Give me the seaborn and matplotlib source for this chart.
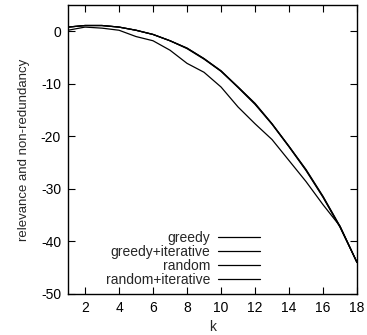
import numpy as np
import pandas as pd
import matplotlib
matplotlib.use("Agg")
import matplotlib.pyplot as plt
import seaborn as sns

k = list(range(1, 19))
greedy = [0.2, 0.8, 0.6, 0.2, -1.0, -1.8, -3.6, -6.1, -7.8, -10.6, -14.4, -17.6, -20.6, -24.6, -28.6, -33.0, -37.1, -44.0]
greedy_iterative = [0.8, 1.1, 1.1, 0.8, 0.2, -0.6, -1.8, -3.2, -5.2, -7.6, -10.6, -13.8, -17.6, -21.9, -26.4, -31.5, -37.2, -44.0]
random_ = [0.8, 1.1, 1.1, 0.8, 0.2, -0.6, -1.8, -3.3, -5.3, -7.6, -10.7, -13.9, -17.7, -22.0, -26.5, -31.6, -37.3, -44.0]
random_iterative = [0.8, 1.1, 1.1, 0.8, 0.2, -0.6, -1.8, -3.2, -5.2, -7.5, -10.6, -13.7, -17.6, -21.9, -26.3, -31.4, -37.1, -44.0]
labels = ["greedy", "greedy+iterative", "random", "random+iterative"]
xticks = [2, 4, 6, 8, 10, 12, 14, 16, 18]
yticks = [0, -10, -20, -30, -40, -50]

df = pd.concat([
    pd.DataFrame({"k": k, "value": v, "method": lab})
    for v, lab in zip([greedy, greedy_iterative, random_, random_iterative], labels)
])

sns.set_style("ticks")
plt.rcParams["font.family"] = ["Liberation Sans", "DejaVu Sans"]
plt.rcParams["axes.unicode_minus"] = False

fig = plt.figure(figsize=(3.67, 3.35), dpi=100)
ax = fig.add_axes([0.1853, 0.1224, 0.7875, 0.8626])

sns.lineplot(data=df, x="k", y="value", hue="method", hue_order=labels,
             palette=["black"] * 4, linewidth=0.9, ax=ax, legend=True)

ax.set_xlim(1, 18)
ax.set_ylim(-50, 5)
ax.set_xticks(xticks)
ax.set_yticks(yticks)
ax.tick_params(direction="in", length=5, width=0.8, top=True, right=True,
               labelsize=10, colors="black", pad=5)
for s in ax.spines.values():
    s.set_visible(True)
    s.set_color("black")
    s.set_linewidth(1.0)
ax.set_xlabel("k", fontsize=10, labelpad=4)
ax.set_ylabel("relevance and non-redundancy", fontsize=9.5, labelpad=8)

leg = ax.legend(loc="lower right", bbox_to_anchor=(0.683, 0.004), frameon=False,
                markerfirst=False, handlelength=3.0, fontsize=10,
                labelspacing=0.0, handletextpad=0.55, borderaxespad=0)
for t in leg.get_texts():
    t.set_ha("right")
leg._legend_box.align = "right"
for h in leg.get_lines():
    h.set_linewidth(0.9)

fig.savefig("out.png", dpi=100)
